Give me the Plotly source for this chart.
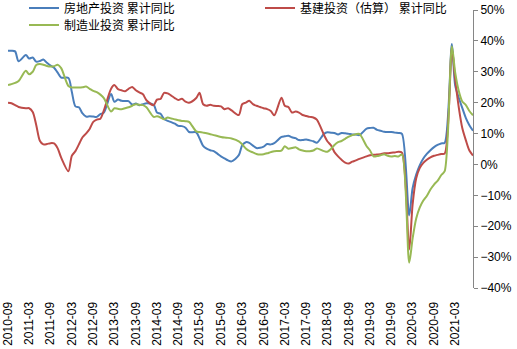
import pandas as pd
import plotly.graph_objects as go

# Monthly cumulative YoY growth (%), Sep 2010 - Aug 2021; January is not published (Jan-Feb combined)
months = [d.strftime("%Y-%m-01") for d in pd.date_range("2010-09-01", "2021-08-01", freq="MS") if d.month != 1]

real_estate = [
    36.8, 36.8, 36.6, 33.4,                                        # 2010 Sep-Dec
    35.4, 34.3, 34.6, 33.3, 33.5, 34.0, 32.9, 32.0, 31.3, 29.7, 28.1,  # 2011
    28.0, 23.5, 18.8, 18.5, 16.5, 15.5, 15.6, 15.5, 15.4, 16.3, 16.8,  # 2012
    22.8, 20.3, 21.0, 20.6, 20.5, 20.5, 19.4, 19.7, 19.2, 19.5, 19.8,  # 2013
    19.3, 16.8, 16.4, 14.7, 14.1, 13.7, 13.2, 12.5, 12.4, 11.9, 10.5,  # 2014
    10.4, 8.5, 6.0, 5.1, 4.6, 4.3, 3.5, 2.6, 2.0, 1.3, 1.0,            # 2015
    3.0, 6.2, 7.2, 7.0, 6.1, 5.3, 5.4, 5.8, 6.6, 6.5, 6.9,             # 2016
    8.9, 9.1, 9.3, 8.8, 8.5, 7.9, 7.9, 8.1, 7.8, 7.5, 7.0,             # 2017
    9.9, 10.4, 10.3, 10.2, 9.7, 10.2, 10.1, 9.9, 9.7, 9.7, 9.5,        # 2018
    11.6, 11.8, 11.9, 11.2, 10.9, 10.6, 10.5, 10.5, 10.3, 10.2, 9.9,   # 2019
    -16.5, -7.7, -3.3, -0.3, 1.9, 3.4, 4.6, 5.6, 6.3, 6.8, 7.0,        # 2020
    39.0, 25.6, 21.6, 18.3, 15.0, 12.7, 10.9,                          # 2021 Feb-Aug
]

infrastructure = [
    20.0, 19.8, 19.2, 18.6,
    18.2, 18.2, 17.0, 12.8, 7.7, 6.5, 6.6, 6.9, 6.8, 5.2, 2.2,
    -2.2, 2.8, 4.3, 6.5, 8.8, 10.0, 11.5, 13.8, 14.5, 14.8, 17.5,
    24.5, 25.7, 24.4, 24.0, 23.7, 24.5, 25.1, 24.0, 23.3, 22.7, 20.8,
    19.2, 21.0, 21.2, 23.2, 23.0, 22.3, 21.5, 20.9, 21.3, 20.3, 20.0,
    21.5, 23.2, 19.5, 19.0, 19.3, 19.0, 18.9, 18.8, 17.9, 18.2, 17.5,
    16.0, 19.5, 20.0, 20.6, 19.5, 19.0, 18.6, 18.2, 17.9, 17.3, 15.9,
    21.6, 19.0, 18.6, 16.8, 17.1, 16.8, 16.0, 15.7, 15.4, 15.2, 14.5,
    9.5, 7.5, 6.2, 4.0, 2.6, 1.5, 0.6, 0.3, 0.9, 1.3, 1.8,
    2.6, 3.0, 3.1, 3.2, 3.3, 3.6, 3.6, 3.8, 3.9, 4.1, 3.8,
    -27.5, -13.0, -4.5, -1.2, 0.5, 1.5, 2.3, 2.8, 3.1, 3.4, 3.5,
    37.5, 27.5, 18.5, 11.8, 7.8, 4.5, 2.9,
]

manufacturing = [
    25.7, 26.0, 26.4, 27.0,
    30.3, 29.2, 30.0, 32.2, 32.5, 32.3, 31.9, 31.7, 31.8, 32.3, 31.2,
    25.4, 24.9, 24.9, 24.9, 25.0, 25.2, 24.5, 23.8, 23.4, 22.6, 21.5,
    17.1, 18.2, 18.0, 17.9, 18.2, 18.5, 19.0, 19.5, 19.3, 19.2, 18.5,
    15.4, 15.6, 15.2, 14.6, 15.2, 14.9, 14.6, 14.3, 14.1, 14.0, 13.8,
    10.7, 10.5, 10.3, 10.1, 9.8, 9.5, 9.2, 8.9, 8.7, 8.6, 8.4,
    7.5, 6.5, 5.2, 4.4, 3.9, 3.4, 3.2, 3.3, 3.6, 4.0, 4.3,
    4.5, 5.9, 5.1, 5.3, 5.6, 4.9, 4.5, 4.3, 4.3, 4.5, 5.2,
    4.3, 4.1, 5.0, 6.3, 7.2, 7.6, 8.3, 9.0, 9.5, 9.8, 9.9,
    5.9, 4.6, 2.6, 2.7, 3.0, 3.3, 2.8, 2.6, 2.7, 2.6, 3.2,
    -31.8, -24.0, -17.5, -14.0, -11.7, -10.2, -8.1, -6.5, -5.3, -3.5, -2.2,
    38.3, 29.8, 23.8, 20.4, 19.2, 17.3, 15.9,
]

series = [
    ("房地产投资 累计同比", real_estate, "#4A7EBB", "legend"),
    ("基建投资（估算） 累计同比", infrastructure, "#BE4B48", "legend2"),
    ("制造业投资 累计同比", manufacturing, "#98B954", "legend3"),
]

AXIS = "#868686"
FONT = "Noto Sans CJK SC"
TICK_FONT = dict(family="Liberation Sans", size=12, color="#000")
W, H = 517, 349

fig = go.Figure()
for name, values, color, leg in series:
    fig.add_trace(go.Scatter(
        x=months, y=values, name=name, mode="lines", legend=leg,
        line=dict(color=color, width=2, shape="spline", smoothing=0.8),
    ))


def legend_at(px, py):
    return dict(
        x=px / W, y=1 - py / H, xref="container", yref="container",
        xanchor="left", yanchor="middle", bgcolor="rgba(0,0,0,0)",
        font=dict(family=FONT, size=12, color="#000"),
    )


y_lo, y_hi = -40, 50
x_range = ["2010-09-01", "2021-08-01"]
tick_kw = dict(tick0="2010-09-01", dtick="M6")

fig.update_layout(
    width=W, height=H,
    margin=dict(l=8, r=44, t=10, b=61, autoexpand=False),
    paper_bgcolor="white", plot_bgcolor="white",
    showlegend=True,
    legend=legend_at(24, 8),
    legend2=legend_at(260, 8),
    legend3=legend_at(24, 25),
    xaxis=dict(
        type="date", range=x_range, **tick_kw,
        tickformat="%Y-%m", tickangle=-90, ticklabeloverflow="allow",
        ticks="outside", ticklen=8, tickcolor="rgba(0,0,0,0)",
        showline=False, showgrid=False, zeroline=False,
        tickfont=TICK_FONT,
    ),
    # horizontal axis line drawn along 0%
    xaxis2=dict(
        type="date", range=x_range, overlaying="x", anchor="free",
        position=(0 - y_lo) / (y_hi - y_lo), side="bottom", **tick_kw,
        showline=True, linecolor=AXIS, linewidth=1,
        ticks="outside", ticklen=5, tickcolor=AXIS,
        showticklabels=False, showgrid=False, zeroline=False,
    ),
    yaxis=dict(
        range=[y_lo, y_hi], dtick=10, side="right", ticksuffix="%",
        showline=True, linecolor=AXIS, linewidth=1,
        ticks="outside", ticklen=4, tickcolor=AXIS,
        showgrid=False, zeroline=False,
        tickfont=TICK_FONT,
    ),
)

fig.write_html("out.html")
